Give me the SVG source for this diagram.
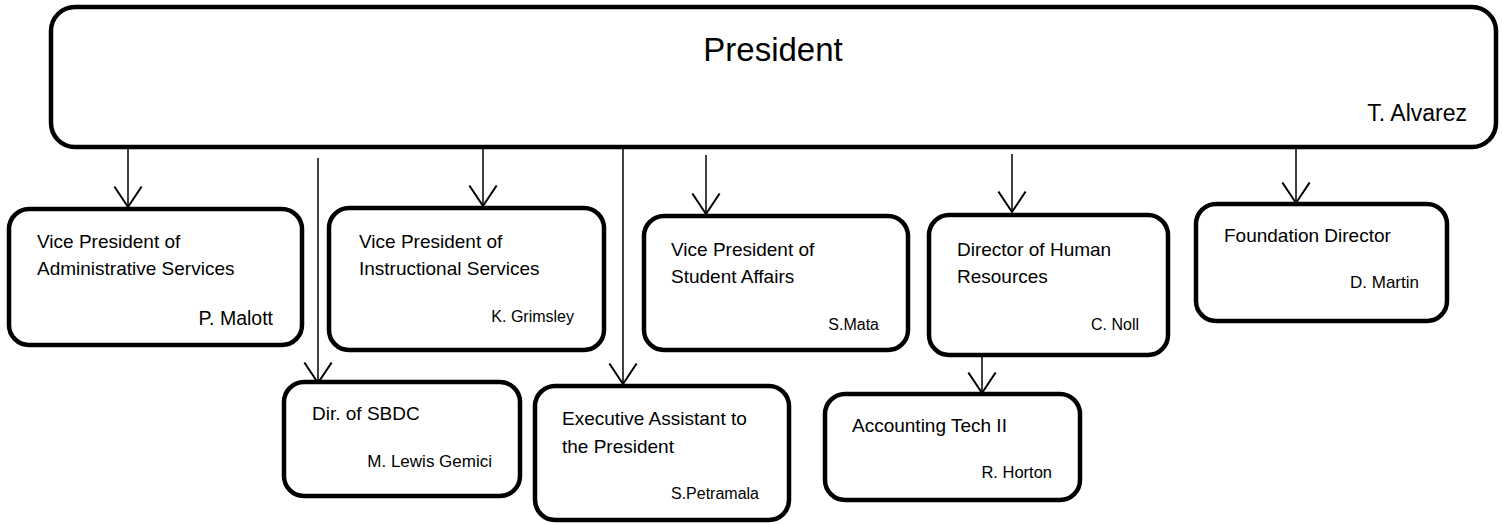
<svg xmlns="http://www.w3.org/2000/svg" width="1502" height="524" viewBox="0 0 1502 524">
<style>
.box{fill:#fff;stroke:#000;stroke-width:4.5}
.t{font-family:"Liberation Sans",Arial,sans-serif;font-size:19px;fill:#000}
.n{font-family:"Liberation Sans",Arial,sans-serif;font-size:16px;fill:#000;text-anchor:end}
.c{stroke:#000;stroke-width:1.5;fill:none;marker-end:url(#arr)}
</style>
<defs>
<marker id="arr" markerUnits="userSpaceOnUse" markerWidth="30" markerHeight="30" viewBox="-16 -11 17 22" refX="0" refY="0" orient="auto" overflow="visible">
<path d="M-15,-10 L0,0 L-15,10" fill="none" stroke="#000" stroke-width="1.5"/>
</marker>
</defs>
<rect width="1502" height="524" fill="#fff"/>
<g id="connectors">
<line class="c" x1="128" y1="149" x2="128" y2="207"/>
<line class="c" x1="318" y1="158" x2="318" y2="383"/>
<line class="c" x1="483" y1="149" x2="483" y2="206"/>
<line class="c" x1="623" y1="149" x2="623" y2="384"/>
<line class="c" x1="706" y1="155" x2="706" y2="214"/>
<line class="c" x1="1012" y1="154" x2="1012" y2="212"/>
<line class="c" x1="1296" y1="149" x2="1296" y2="203"/>
<line class="c" x1="982" y1="357" x2="982" y2="393"/>
</g>
<g id="president">
<rect class="box" x="51" y="7" width="1445" height="140" rx="24"/>
<text class="t" x="773" y="61" text-anchor="middle" style="font-size:33px">President</text>
<text class="n" x="1467" y="121" style="font-size:23px">T. Alvarez</text>
</g>
<g id="vp-admin">
<rect class="box" x="9" y="209" width="293" height="136" rx="20"/>
<text class="t" x="37" y="248">Vice President of</text>
<text class="t" x="37" y="275">Administrative Services</text>
<text class="n" x="273" y="325" style="font-size:19.5px">P. Malott</text>
</g>
<g id="vp-instr">
<rect class="box" x="329" y="208" width="275" height="142" rx="20"/>
<text class="t" x="359" y="248">Vice President of</text>
<text class="t" x="359" y="275">Instructional Services</text>
<text class="n" x="574" y="322">K. Grimsley</text>
</g>
<g id="vp-student">
<rect class="box" x="644" y="216" width="264" height="134" rx="20"/>
<text class="t" x="671" y="256">Vice President of</text>
<text class="t" x="671" y="283">Student Affairs</text>
<text class="n" x="879" y="330">S.Mata</text>
</g>
<g id="hr">
<rect class="box" x="929" y="215" width="239" height="140" rx="20"/>
<text class="t" x="957" y="256">Director of Human</text>
<text class="t" x="957" y="283">Resources</text>
<text class="n" x="1139" y="330">C. Noll</text>
</g>
<g id="foundation">
<rect class="box" x="1196" y="204" width="251" height="117" rx="20"/>
<text class="t" x="1224" y="242">Foundation Director</text>
<text class="n" x="1419" y="288" style="font-size:17px">D. Martin</text>
</g>
<g id="sbdc">
<rect class="box" x="284" y="382" width="236" height="114" rx="20"/>
<text class="t" x="312" y="420">Dir. of SBDC</text>
<text class="n" x="492" y="467" style="font-size:17px">M. Lewis Gemici</text>
</g>
<g id="exec-assistant">
<rect class="box" x="535" y="386" width="254" height="134" rx="20"/>
<text class="t" x="562" y="425">Executive Assistant to</text>
<text class="t" x="562" y="453">the President</text>
<text class="n" x="759" y="499">S.Petramala</text>
</g>
<g id="accounting">
<rect class="box" x="825" y="394" width="255" height="106" rx="20"/>
<text class="t" x="852" y="432">Accounting Tech II</text>
<text class="n" x="1052" y="478" style="font-size:16.5px">R. Horton</text>
</g>
</svg>
